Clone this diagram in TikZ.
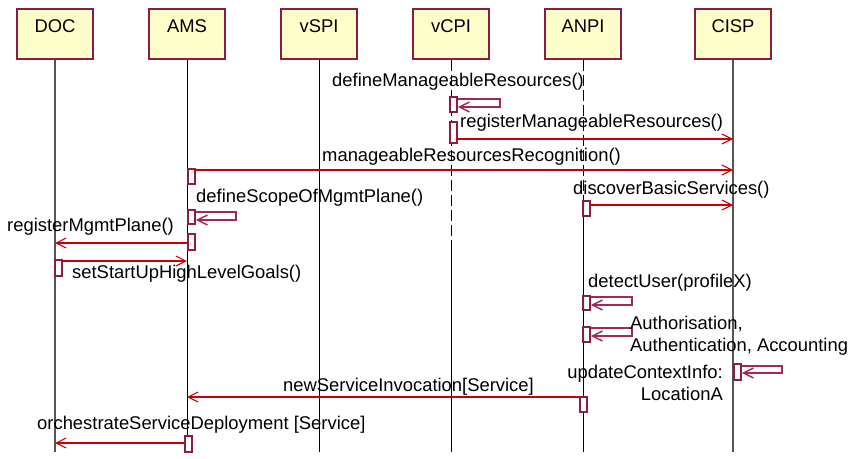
\documentclass[tikz,border=0pt]{standalone}
\usepackage{fontspec}
\setmainfont{Liberation Sans}
\usetikzlibrary{arrows.meta,calc}
\definecolor{boxfill}{HTML}{FFFFCC}
\definecolor{boxline}{HTML}{8C1D40}
\definecolor{msgred}{HTML}{CC0000}
\definecolor{selfc}{HTML}{A3294F}
\definecolor{lifegray}{HTML}{555555}
\begin{document}
\begin{tikzpicture}[x=1pt,y=-1pt,
  font=\fontsize{18.4}{22}\selectfont,
  obj/.style={draw=boxline, fill=boxfill, line width=1.6pt, minimum width=76pt,
    inner sep=0pt, text height=23.5pt, text depth=26.5pt, anchor=north},
  life/.style={draw=black, line width=0.9pt},
  lifeg/.style={draw=lifegray, line width=1.6pt},
  lifedash/.style={draw=black, line width=0.9pt, dash pattern=on 11pt off 4pt},
  act/.style={draw=boxline, fill=white, line width=1.8pt, minimum width=7pt,
    inner sep=0pt, anchor=north west},
  msg/.style={draw=msgred, line width=1.1pt, -{Straight Barb[length=10pt,width=10pt]}},
  selfmsg/.style={draw=selfc, line width=1.5pt, -{Straight Barb[length=10pt,width=10pt]}},
  lbl/.style={anchor=west, inner sep=0pt}
]
\useasboundingbox (0,0) rectangle (849,458);

% objects
\node[obj] (doc)  at (55,8)  {DOC};
\node[obj] (ams)  at (187,8) {AMS};
\node[obj] (vspi) at (319,8) {vSPI};
\node[obj] (vcpi) at (451,8) {vCPI};
\node[obj] (anpi) at (583,8) {ANPI};
\node[obj] (cisp) at (733,8) {CISP};

% lifelines
\coordinate (docE)  at (55,452);
\coordinate (amsE)  at (187,452);
\coordinate (vspiE) at (319,452);
\coordinate (vcpiM) at (451,250);
\coordinate (vcpiE) at (451,452);
\coordinate (anpiM) at (583,198);
\coordinate (anpiE) at (583,452);
\coordinate (cispE) at (733,452);
\draw[lifeg] (doc.south) -- (docE);
\draw[life] (ams.south) -- (amsE);
\draw[life] (vspi.south) -- (vspiE);
\draw[lifedash] (vcpi.south) -- (vcpiM);
\draw[life] (vcpiM) -- (vcpiE);
\draw[lifedash] (anpi.south) -- (anpiM);
\draw[life] (anpiM) -- (anpiE);
\draw[lifeg] (cisp.south) -- (cispE);

% activations
\node[act, minimum height=15pt] (a1)  at (449,96)  {};
\node[act, minimum height=21pt] (a2)  at (449,121) {};
\node[act, minimum height=15pt] (a3)  at (187,168) {};
\node[act, minimum height=15pt] (a4)  at (582,200) {};
\node[act, minimum height=14pt] (a5)  at (187,209) {};
\node[act, minimum height=16pt] (a6)  at (187,233) {};
\node[act, minimum height=16pt] (a7)  at (54,259)  {};
\node[act, minimum height=14pt] (a8)  at (582,295) {};
\node[act, minimum height=15pt] (a9)  at (582,326) {};
\node[act, minimum height=16pt] (a10) at (733,363) {};
\node[act, minimum height=15pt] (a11) at (579,396) {};
\node[act, minimum height=16pt] (a12) at (184,435) {};

% self messages
\draw[selfmsg] ($(a1.north east)+(0,3)$) -- ++(42,0) -- ++(0,8) -- ($(a1.north east)+(0,11)$);
\draw[selfmsg] ($(a5.north east)+(0,3)$) -- ++(40,0) -- ++(0,8) -- ($(a5.north east)+(0,11)$);
\draw[selfmsg] ($(a8.north east)+(0,2)$) -- ++(41,0) -- ++(0,8) -- ($(a8.north east)+(0,10)$);
\draw[selfmsg] ($(a9.north east)+(0,2)$) -- ++(41,0) -- ++(0,8) -- ($(a9.north east)+(0,10)$);
\draw[selfmsg] ($(a10.north east)+(0,3)$) -- ++(40,0) -- ++(0,7) -- ($(a10.north east)+(0,10)$);

% messages
\coordinate (m2)  at (456,139);
\coordinate (m3)  at (194,170);
\coordinate (m4)  at (589,205);
\coordinate (m6)  at (187,243);
\coordinate (m7)  at (61,261);
\coordinate (m11) at (579,397);
\coordinate (m12) at (184,443);
\draw[msg] (m2)  -- (m2 -| cispE);
\draw[msg] (m3)  -- (m3 -| cispE);
\draw[msg] (m4)  -- (m4 -| cispE);
\draw[msg] (m6)  -- (m6 -| docE);
\draw[msg] (m7)  -- (m7 -| amsE);
\draw[msg] (m11) -- (m11 -| amsE);
\draw[msg] (m12) -- (m12 -| docE);

% labels
\node[lbl] (l1)  at (332,82)  {defineManageableResources()};
\node[lbl] (l2)  at (460,123) {registerManageableResources()};
\node[lbl] (l3)  at (322,157) {manageableResourcesRecognition()};
\node[lbl] (l4)  at (573,190) {discoverBasicServices()};
\node[lbl] (l5)  at (196,198) {defineScopeOfMgmtPlane()};
\node[lbl] (l6)  at (7,227)   {registerMgmtPlane()};
\node[lbl] (l7)  at (72,274)  {setStartUpHighLevelGoals()};
\node[lbl] (l8)  at (588,283) {detectUser(profileX)};
\node[lbl, align=left] (l9) at (630,336) {Authorisation,\\Authentication, Accounting};
\node[lbl, anchor=east, align=right] (l10) at (723,383) {updateContextInfo:\\LocationA};
\node[lbl] (l11) at (283,387) {newServiceInvocation[Service]};
\node[lbl] (l12) at (37,425)  {orchestrateServiceDeployment [Service]};
\end{tikzpicture}
\end{document}
